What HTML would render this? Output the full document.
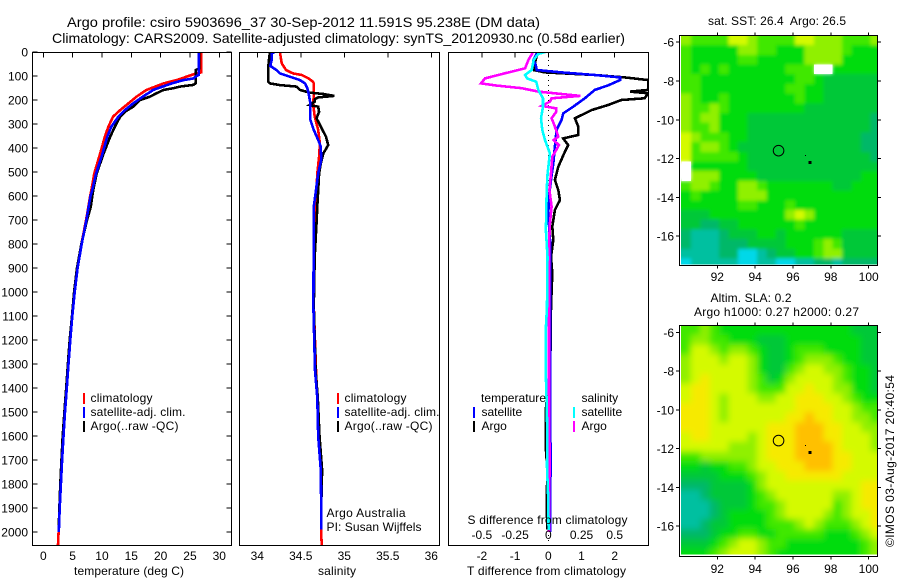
<!DOCTYPE html>
<html lang="en">
<head>
<meta charset="utf-8">
<title>Argo profile</title>
<style>
html,body{margin:0;padding:0;background:#fff;}
svg{display:block;}
text{font-family:"Liberation Sans",sans-serif;font-size:12px;fill:#000;white-space:pre;}
.t{font-size:14px;}
</style>
</head>
<body>
<svg id="chart" xmlns="http://www.w3.org/2000/svg" width="900" height="580" viewBox="0 0 900 580">
<defs>
<clipPath id="clip-p1"><rect x="32.5" y="52.5" width="199" height="493"/></clipPath>
<clipPath id="clip-p2"><rect x="239.5" y="52.5" width="200" height="493"/></clipPath>
<clipPath id="clip-p3"><rect x="448.5" y="52.5" width="200" height="493"/></clipPath>
<clipPath id="clip-m1"><rect x="681" y="35.5" width="196.5" height="229"/></clipPath>
<clipPath id="clip-m2"><rect x="681" y="325.5" width="196.5" height="229"/></clipPath>
<filter id="soft" x="-10%" y="-10%" width="120%" height="120%"><feGaussianBlur stdDeviation="3.2"/></filter>
<filter id="softer" x="-10%" y="-10%" width="120%" height="120%"><feGaussianBlur stdDeviation="1.8"/></filter>
</defs>
<text class="t" x="67" y="27" textLength="473" lengthAdjust="spacingAndGlyphs">Argo profile: csiro 5903696_37 30-Sep-2012 11.591S 95.238E (DM data)</text>
<text class="t" x="52" y="43" textLength="573" lengthAdjust="spacingAndGlyphs">Climatology: CARS2009. Satellite-adjusted climatology: synTS_20120930.nc (0.58d earlier)</text>

<g id="plots"></g>

<g>
<rect x="83" y="393" width="2" height="11" fill="#f00"/>
<rect x="83" y="407" width="2" height="11" fill="#00f"/>
<rect x="83" y="421" width="2" height="11" fill="#000"/>
<text x="90.5" y="402" textLength="62">climatology</text>
<text x="90.5" y="416" textLength="95">satellite-adj. clim.</text>
<text x="90.5" y="430" textLength="88">Argo(..raw -QC)</text>
</g>
<g>
<rect x="337" y="393" width="2" height="11" fill="#f00"/>
<rect x="337" y="407" width="2" height="11" fill="#00f"/>
<rect x="337" y="421" width="2" height="11" fill="#000"/>
<text x="344.5" y="402" textLength="62">climatology</text>
<text x="344.5" y="416" textLength="95">satellite-adj. clim.</text>
<text x="344.5" y="430" textLength="88">Argo(..raw -QC)</text>
</g>
<g>
<text x="481" y="402" textLength="65">temperature</text>
<rect x="473" y="407" width="2" height="11" fill="#00f"/>
<rect x="473" y="421" width="2" height="11" fill="#000"/>
<text x="481.5" y="416">satellite</text>
<text x="481.5" y="430">Argo</text>
<text x="581.5" y="402">salinity</text>
<rect x="573" y="407" width="2" height="11" fill="#0ff"/>
<rect x="573" y="421" width="2" height="11" fill="#f0f"/>
<text x="581.5" y="416">satellite</text>
<text x="581.5" y="430">Argo</text>
</g>

<text x="326.5" y="517" textLength="79">Argo Australia</text>
<text x="326.5" y="531" textLength="95">PI: Susan Wijffels</text>

<text x="74" y="575" textLength="110">temperature (deg C)</text>
<text x="318" y="575" textLength="38">salinity</text>
<text x="467.5" y="524" textLength="160">S difference from climatology</text>
<text x="467" y="575" textLength="159">T difference from climatology</text>

<text x="708" y="25" textLength="138">sat. SST: 26.4  Argo: 26.5</text>
<text x="710.5" y="302" textLength="81">Altim. SLA: 0.2</text>
<text x="694" y="316" textLength="165">Argo h1000: 0.27 h2000: 0.27</text>
<text transform="translate(894,547) rotate(-90)" textLength="172">©IMOS 03-Aug-2017 20:40:54</text>
</svg>

<script>
// ---- temperature profiles (depth in m, temperature in deg C) ----
const tempClimDepth = [0,85,89,103,117,131,158,186,214,242,269,311,353,422,506,575,600,700,800,900,1000,1100,1200,1300,1400,1500,1600,1700,1800,1900,2000,2054];
const tempClimValues = [26.9,26.9,26.1,24.4,22.7,20.5,17.6,15.9,14.5,13.1,11.9,11.1,10.5,9.7,8.7,8.2,8.0,7.3,6.5,5.8,5.3,4.9,4.55,4.25,3.95,3.65,3.4,3.2,2.95,2.8,2.6,2.5];
const tempSatDepth = [0,96,100,110,117,131,158,186,214,242,269,311,353,422,506,575,600,700,800,900,1000,1100,1200,1300,1400,1500,1600,1700,1800,1900,2000];
const tempSatValues = [26.5,26.5,26.1,25.6,23.9,21.9,18.75,17,15.3,13.9,12.8,11.6,10.9,10.1,9,8.35,8.05,7.35,6.55,5.85,5.35,4.95,4.6,4.3,4,3.7,3.45,3.2,3,2.8,2.65];
const tempArgoDepth = [0,68,75,130,137,144,151,158,172,186,200,228,249,269,311,353,422,506,575,644,700,800,900,1000,1100,1200,1300,1400,1500,1600,1700,1800,1900,2000];
const tempArgoValues = [26.6,26.6,26,26,25.6,23.3,22.2,20.5,19.3,18.2,16.5,15.3,13.9,13.1,12.2,11.4,10.3,9.1,8.5,8.1,7.45,6.5,5.75,5.25,4.9,4.5,4.2,3.9,3.6,3.3,3.1,2.9,2.75,2.6];

// ---- salinity profiles ----
const salClimDepth = [0,47,75,89,96,110,124,131,186,214,269,325,381,436,506,575,644,714,783,922,1061,1325,1442,1600,1742,2000,2054];
const salClimValues = [34.26,34.28,34.33,34.41,34.51,34.59,34.64,34.65,34.65,34.64,34.66,34.70,34.72,34.71,34.69,34.68,34.67,34.66,34.655,34.65,34.65,34.675,34.69,34.71,34.735,34.735,34.74];
const salSatDepth = [0,6,33,58,75,89,103,117,131,151,172,214,283,325,367,394,450,506,575,644,783,1061,1325,1442,1600,1742,1900,1990];
const salSatValues = [34.2,34.165,34.165,34.15,34.22,34.26,34.375,34.49,34.55,34.575,34.59,34.61,34.61,34.65,34.70,34.73,34.735,34.70,34.675,34.65,34.648,34.645,34.663,34.69,34.70,34.73,34.735,34.735];
const salArgoDepth = [0,47,89,124,131,138,144,158,169,175,183,189,197,207,221,228,249,276,311,353,388,422,464,506,575,644,714,853,1061,1325,1442,1600,1742,1900,1990];
const salArgoValues = [34.145,34.13,34.125,34.125,34.145,34.26,34.45,34.49,34.6,34.76,34.885,34.70,34.66,34.66,34.6,34.70,34.71,34.68,34.73,34.79,34.815,34.76,34.73,34.71,34.70,34.69,34.68,34.66,34.65,34.67,34.695,34.715,34.745,34.735,34.735];

// ---- differences from climatology ----
const dTSatDepth = [0,6,33,54,75,85,96,106,117,139,158,193,228,256,283,325,394,464,533,603,672,783,1061,1400,1700,2000];
const dTSatValues = [-0.35,-0.35,-0.45,-0.38,-0.35,0.4,1.4,2.16,2.16,1.8,1.4,1.1,0.75,0.45,0.4,0.25,0.2,0.15,0.08,0.02,0,0.05,0.06,0.05,0.07,0.05];
const dTArgoDepth = [0,6,33,75,85,96,106,117,158,165,172,193,200,221,242,263,276,311,346,360,388,422,478,533,575,617,658,728,783,853,922,1061,1300,1500,1640,1750,1850,1990];
const dTArgoValues = [-0.32,-0.32,-0.38,-0.45,-0.1,1.4,2.3,3.01,3.01,2.46,3.01,2.9,2.2,1.8,1.3,1.0,0.8,0.9,0.9,0.45,0.6,0.48,0.3,0.2,0.3,0.35,0.2,0.12,0.15,0.08,0.12,0.08,0.06,-0.08,-0.08,-0.02,-0.05,-0.03];
const dSArgoDepth = [0,6,33,68,89,110,131,139,151,165,175,183,193,207,224,235,249,276,311,353,367,388,408,436,506,575,644,714,811,1100,1400,1700,2000];
const dSArgoValues = [-0.12,-0.12,-0.15,-0.175,-0.33,-0.477,-0.507,-0.4,-0.2,-0.075,0.1,0.24,0.025,0.012,-0.05,0.06,0.06,0.025,0.05,0.075,0.04,0.08,0.06,0.03,0.02,0.008,0.025,0.012,0.005,0.005,0.005,0.01,0.005];
const dSSatDepth = [0,8,33,75,96,110,124,158,193,228,276,325,367,422,506,575,742,853,1061,1171,1310,1450,1589,1728,1867,1992];
const dSSatValues = [-0.025,-0.075,-0.11,-0.125,-0.175,-0.16,-0.09,-0.075,-0.04,-0.04,-0.055,-0.045,-0.025,0.012,-0.005,-0.012,-0.018,-0.006,-0.01,-0.02,-0.02,-0.0125,-0.0075,-0.01,0,0.002];

// ---- tick labels ----
const depthTicks = [0,100,200,300,400,500,600,700,800,900,1000,1100,1200,1300,1400,1500,1600,1700,1800,1900,2000];
const tempTicks = [0,5,10,15,20,25,30];
const salTicks = [34,34.5,35,35.5,36];
const dTTicks = [-2,-1,0,1,2];
const dSTicks = [-0.5,-0.25,0,0.25,0.5];
const lonTicks = [92,94,96,98,100];
const latTicks = [-6,-8,-10,-12,-14,-16];

// ---- map markers: [lon, lat] ----
const floatPosition = [95.238,-11.591];
const trackEnd = [96.9,-12.2];
const trackStart = [96.65,-11.85];

// ---- colour levels of the map heatmaps (0 cyan .. 9 orange; null = no data) ----
const sstGrid = [
[6,5,5,5,5,7,7,6,5,5,5,5,7,7,6,6,6,5,5,5,6],
[5,4,4,4,4,4,6,6,5,5,4,4,4,6,6,6,6,5,4,4,4],
[5,4,4,4,4,4,5,5,4,4,4,4,4,6,6,6,6,4,4,4,4],
[5,4,5,4,5,4,4,4,4,4,4,5,5,5,null,null,4,4,4,4,4],
[5,5,4,4,4,4,4,4,4,4,4,4,5,5,4,3,3,3,3,3,3],
[5,5,4,4,4,4,4,4,4,4,4,5,5,4,4,3,3,3,3,3,3],
[6,5,4,4,5,4,4,4,4,4,4,4,5,4,4,3,3,3,3,3,3],
[6,5,5,6,5,4,4,4,4,4,4,4,4,3,3,3,3,3,3,3,3],
[6,5,6,6,4,4,4,3,3,3,3,3,3,3,3,3,3,3,3,3,2],
[6,5,5,6,4,4,4,3,3,3,3,3,3,3,3,3,3,3,3,3,2],
[7,6,5,5,5,4,4,3,3,3,3,3,3,3,3,3,3,3,3,2,2],
[7,5,6,6,5,4,3,3,3,3,3,3,3,3,3,3,3,3,3,2,2],
[7,5,5,5,5,5,4,3,3,3,3,3,3,3,3,3,3,3,3,3,2],
[null,4,4,4,4,4,4,3,3,3,3,3,3,3,3,3,3,3,3,3,3],
[null,6,6,6,4,4,4,4,3,3,3,3,3,3,3,3,3,3,3,4,4],
[5,6,6,5,4,4,6,6,5,4,4,4,4,4,4,4,3,3,4,4,4],
[4,5,4,4,4,4,6,6,6,4,4,4,4,4,4,4,4,4,4,4,4],
[4,4,4,4,4,4,5,5,4,4,4,5,4,4,4,4,4,4,4,4,4],
[3,3,3,4,4,4,4,4,4,4,4,6,7,6,4,4,4,4,4,4,4],
[3,3,2,2,3,3,4,4,4,4,4,4,5,4,4,4,4,4,4,4,4],
[2,1,1,1,2,3,3,3,4,4,3,4,4,4,4,4,4,3,3,3,3],
[2,1,1,1,2,2,2,3,3,3,3,4,4,4,5,6,5,3,3,3,3],
[1,1,1,1,2,2,0,0,1,2,3,3,4,4,5,6,6,3,3,3,3],
[0,1,1,1,1,1,0,0,1,1,0,0,1,1,2,2,1,2,2,2,2]
];
const slaGrid = [
[5,5,6,5,4,4,4,4,4,4,4,4,4,4,4,4,4,4,3,3,3],
[5,6,6,5,5,4,4,4,3,3,3,4,4,4,4,4,4,4,4,3,3],
[5,7,7,6,5,6,6,5,4,3,3,4,5,5,5,4,4,4,4,3,3],
[6,7,7,7,6,7,7,6,4,3,3,4,5,6,6,6,5,4,4,3,3],
[6,7,7,7,7,7,7,6,4,3,3,5,6,7,7,6,6,5,4,4,3],
[6,7,8,7,7,7,7,6,5,3,4,6,7,7,7,7,6,5,4,4,3],
[7,8,8,7,7,7,7,6,5,5,5,7,7,8,7,7,6,6,4,4,3],
[7,8,8,7,6,7,7,7,6,6,7,7,8,8,8,7,7,6,5,4,4],
[8,8,8,7,6,7,7,7,7,7,7,7,8,8,8,8,7,7,6,5,5],
[8,8,8,7,6,7,7,7,7,7,7,8,8,9,8,8,7,7,6,6,5],
[8,8,8,7,7,7,7,7,7,8,8,8,9,9,9,8,8,7,7,6,6],
[7,8,8,7,7,7,7,6,7,8,8,8,9,9,9,8,8,7,7,7,6],
[7,7,7,7,7,6,6,6,7,8,8,8,9,9,9,9,8,7,7,7,6],
[5,5,6,6,6,6,6,6,7,8,8,8,9,9,9,9,8,8,7,7,7],
[4,4,3,4,4,5,5,6,7,7,8,8,8,9,9,9,8,8,7,7,7],
[3,3,3,3,4,4,4,5,6,7,7,8,8,8,8,8,8,7,7,7,7],
[2,2,2,3,3,3,3,4,6,7,7,7,7,7,7,7,7,7,7,8,8],
[1,1,2,3,3,3,3,4,5,6,7,7,7,7,7,7,6,6,7,8,8],
[1,1,1,2,3,3,3,4,5,5,6,7,7,7,7,7,5,6,7,8,8],
[1,1,1,2,3,4,4,4,4,5,6,7,7,7,7,6,5,6,7,7,8],
[1,1,2,3,3,4,4,4,4,5,5,5,6,7,6,5,5,5,6,7,8],
[2,2,2,3,4,4,5,5,4,4,5,5,5,5,5,4,4,4,5,6,7],
[3,3,3,4,5,6,7,7,6,5,5,4,4,4,4,4,4,4,4,5,6],
[4,4,4,5,6,7,7,7,6,5,4,4,4,4,4,4,4,4,4,5,6]
];

const NS = 'http://www.w3.org/2000/svg';
const root = document.getElementById('plots');
const levelColors = ['#00d8e8','#00c0a0','#00b868','#00c838','#00dc0c','#40e800','#90f000','#d4fa00','#f6ea00','#ffc000'];

function make(tag, attrs, parent) {
  const el = document.createElementNS(NS, tag);
  for (const k in attrs) el.setAttribute(k, attrs[k]);
  (parent || root).appendChild(el);
  return el;
}
function depthY(d) { return 52 + 0.24 * d; }
function tempX(t) { return 43.3 + 5.867 * t; }
function salX(s) { return 257.3 + 87 * (s - 34); }
function dTX(v) { return 548.3 + 33.2 * v; }
function dSX(v) { return 548.3 + 132.8 * v; }
function lonX(lon) { return 717.3 + 18.92 * (lon - 92); }
function latY1(lat) { return 42.2 - 19.4 * (lat + 6); }
function latY2(lat) { return 332.3 - 19.37 * (lat + 6); }

function drawFrame(x, y, w, h, name) {
  const frame = make('rect', {x: x, y: y, width: w, height: h, fill: 'none', stroke: '#000', 'stroke-width': 1, 'shape-rendering': 'crispEdges'});
  
  
}
function tickLine(x1, y1, x2, y2) {
  const tick = make('line', {x1: x1, y1: y1, x2: x2, y2: y2, stroke: '#000', 'stroke-width': 1, 'shape-rendering': 'crispEdges'});
  
  
}
function tickLabel(x, y, str, anchor) {
  const label = make('text', {x: x, y: y, 'text-anchor': anchor});
  label.textContent = str;
  
  
}
function drawProfile(depths, values, scaleX, color, clip, name) {
  const pts = depths.map(function (d, i) { return scaleX(values[i]).toFixed(1) + ',' + depthY(d).toFixed(1); }).join(' ');
  const line = make('polyline', {points: pts, fill: 'none', stroke: color, 'stroke-width': 2.6, 'stroke-linejoin': 'miter', 'shape-rendering': 'crispEdges', 'clip-path': 'url(#' + clip + ')'});
  
  
}
function drawHeatmap(grid, latY, lat0, clip, filter, name) {
  const group = make('g', {'clip-path': 'url(#' + clip + ')'});
  
  
  const inner = make('g', {filter: 'url(#' + filter + ')'}, group);
  
  
  const bleed = 14;
  grid.forEach(function (row, r) {
    row.forEach(function (v, c) {
      const lon = 90.1 + c * 0.5;
      const lat = lat0 - r * 0.5;
      let x0 = lonX(lon), x1 = lonX(lon + 0.5), y0 = latY(lat), y1 = latY(lat - 0.5);
      if (v === null) return;
      if (c === 0) x0 -= bleed;
      if (c === row.length - 1) x1 += bleed;
      if (r === 0) y0 -= bleed;
      if (r === grid.length - 1) y1 += bleed;
      const cell = make('rect', {x: x0, y: y0, width: x1 - x0 + 0.6, height: y1 - y0 + 0.6, fill: levelColors[v], 'shape-rendering': 'crispEdges'}, inner);
      
      
    });
  });
  grid.forEach(function (row, r) {
    row.forEach(function (v, c) {
      if (v !== null) return;
      const x0 = lonX(90.1 + c * 0.5), x1 = lonX(90.1 + (c + 1) * 0.5);
      const y0 = latY(lat0 - r * 0.5), y1 = latY(lat0 - (r + 1) * 0.5);
      const gap = make('rect', {x: x0, y: y0, width: x1 - x0, height: y1 - y0, fill: '#fff', 'shape-rendering': 'crispEdges'}, group);
      
      
    });
  });
}
function drawMapFurniture(top, bottom, latY, labelY, frameName) {
  drawFrame(679.5, top, 198, bottom - top, frameName);
  lonTicks.forEach(function (lon) {
    tickLine(lonX(lon), top - 3, lonX(lon), top);
    tickLine(lonX(lon), bottom, lonX(lon), bottom + 3);
    tickLabel(lonX(lon), labelY, String(lon), 'middle');
  });
  latTicks.forEach(function (lat) {
    tickLine(676, latY(lat), 679.5, latY(lat));
    tickLine(877.5, latY(lat), 881, latY(lat));
    tickLabel(674, latY(lat) + 4.5, String(lat), 'end');
  });
  const ring = make('circle', {cx: lonX(floatPosition[0]), cy: latY(floatPosition[1]), r: 5.3, fill: 'none', stroke: '#000', 'stroke-width': 1});
  
  
  const a = make('rect', {x: lonX(trackEnd[0]) - 1.5, y: latY(trackEnd[1]) - 1.5, width: 3, height: 3, fill: '#000', 'shape-rendering': 'crispEdges'});
  
  
  const b = make('rect', {x: lonX(trackStart[0]) - 0.5, y: latY(trackStart[1]) - 0.5, width: 1, height: 1, fill: '#000', 'shape-rendering': 'crispEdges'});
  
  
}

// temperature panel
drawProfile(tempClimDepth, tempClimValues, tempX, '#f00', 'clip-p1', 'temperature-climatology-line');
drawProfile(tempArgoDepth, tempArgoValues, tempX, '#000', 'clip-p1', 'temperature-argo-line');
drawProfile(tempSatDepth, tempSatValues, tempX, '#00f', 'clip-p1', 'temperature-satellite-line');
drawFrame(32.5, 52.5, 199, 493, 'temperature-panel-frame');
depthTicks.forEach(function (d) {
  tickLine(32.5, depthY(d), 37.5, depthY(d));
  tickLine(226.5, depthY(d), 231.5, depthY(d));
  tickLabel(28, depthY(d) + 4.5, String(d), 'end');
});
tempTicks.forEach(function (t) {
  tickLine(tempX(t), 52.5, tempX(t), 57.5);
  tickLabel(tempX(t), 560, String(t), 'middle');
});

// salinity panel
drawProfile(salClimDepth, salClimValues, salX, '#f00', 'clip-p2', 'salinity-climatology-line');
drawProfile(salArgoDepth, salArgoValues, salX, '#000', 'clip-p2', 'salinity-argo-line');
drawProfile(salSatDepth, salSatValues, salX, '#00f', 'clip-p2', 'salinity-satellite-line');
drawFrame(239.5, 52.5, 200, 493, 'salinity-panel-frame');
salTicks.forEach(function (s) {
  tickLine(salX(s), 52.5, salX(s), 57.5);
  tickLabel(salX(s), 560, String(s), 'middle');
});

// difference panel
const zeroLine = make('line', {x1: dTX(0), y1: 55, x2: dTX(0), y2: 545, stroke: '#000', 'stroke-width': 1, 'stroke-dasharray': '1 4', 'shape-rendering': 'crispEdges'});


drawProfile(dTArgoDepth, dTArgoValues, dTX, '#000', 'clip-p3', 't-difference-argo-line');
drawProfile(dTSatDepth, dTSatValues, dTX, '#00f', 'clip-p3', 't-difference-satellite-line');
drawProfile(dSArgoDepth, dSArgoValues, dSX, '#f0f', 'clip-p3', 's-difference-argo-line');
drawProfile(dSSatDepth, dSSatValues, dSX, '#0ff', 'clip-p3', 's-difference-satellite-line');
drawFrame(448.5, 52.5, 200, 493, 'difference-panel-frame');
dTTicks.forEach(function (v) {
  tickLine(dTX(v), 52.5, dTX(v), 57.5);
  tickLabel(dTX(v), 560, String(v), 'middle');
});
dSTicks.forEach(function (v) {
  tickLabel(dSX(v), 539, String(v), 'middle');
});

// maps
drawHeatmap(sstGrid, latY1, -5.65, 'clip-m1', 'softer', 'sst-heatmap');
drawMapFurniture(35.5, 265.5, latY1, 281, 'sst-map-frame');
drawHeatmap(slaGrid, latY2, -5.65, 'clip-m2', 'soft', 'sla-heatmap');
drawMapFurniture(325.5, 556.5, latY2, 573, 'sla-map-frame');
</script>
</body>
</html>
